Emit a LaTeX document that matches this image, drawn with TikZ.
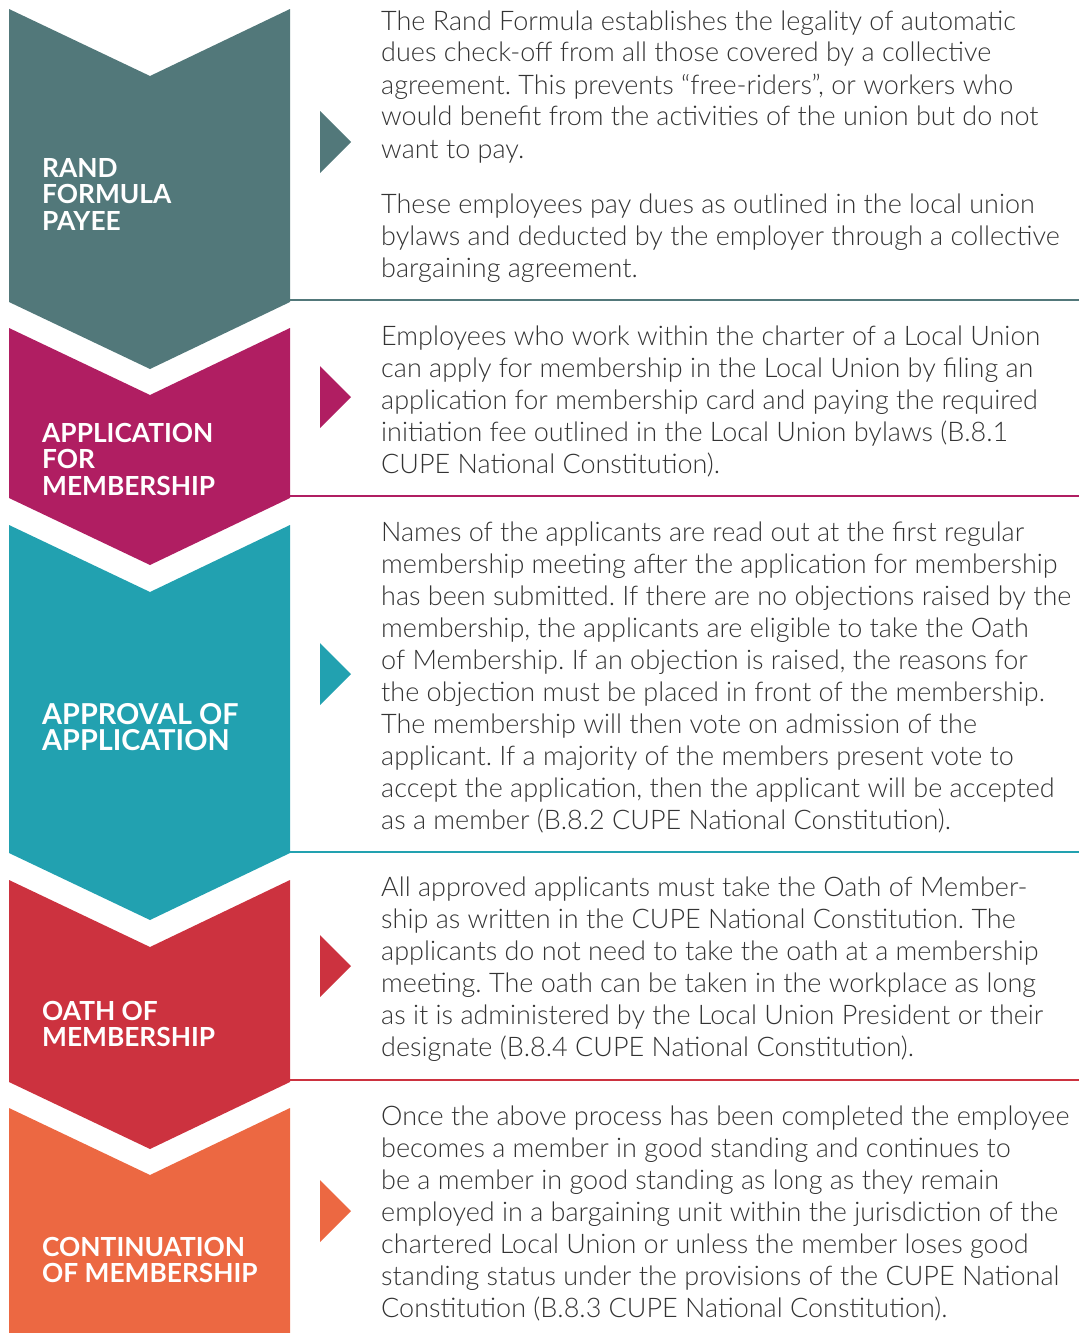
\documentclass[tikz,border=0pt]{standalone}
\usepackage{fontspec}
\setmainfont{Lato}
\newfontfamily\bodyfont{Lato Light}
\definecolor{cA}{HTML}{52787A}
\definecolor{cB}{HTML}{B01E62}
\definecolor{cC}{HTML}{22A1B0}
\definecolor{cD}{HTML}{CC323F}
\definecolor{cE}{HTML}{EC6842}
\definecolor{txt}{HTML}{333333}
\newcommand\mychev[3]{\fill[#1] (9,#2) -- (150,#2+67) -- (290,#2) -- (290,#3) -- (150,#3+67) -- (9,#3) -- cycle;}
\newcommand\mytri[2]{\fill[#1] (320,#2-31) -- (351,#2) -- (320,#2+31) -- cycle;}
\newcommand\mysep[2]{\draw[#1, line width=2pt] (290,#2) -- (1079,#2);}
\begin{document}
\frenchspacing
\begin{tikzpicture}[x=1pt,y=-1pt,
  body/.style={anchor=base west, inner sep=0pt, text=txt, font=\bodyfont\fontsize{27}{32}\selectfont},
  lbl/.style={anchor=base west, inner sep=0pt, text=white, font=\bfseries\fontsize{26.3}{26.8}\selectfont},
  lblbig/.style={lbl, font=\bfseries\fontsize{28.8}{26.8}\selectfont}]
\useasboundingbox (0,0) rectangle (1079,1333);
% chevrons
\mychev{cA}{9}{302}
\mychev{cB}{328}{498}
\mychev{cC}{525}{853}
\mychev{cD}{880}{1082}
\fill[cE] (9,1108) -- (150,1175) -- (290,1108) -- (290,1333) -- (9,1333) -- cycle;
% triangles
\mytri{cA}{142}
\mytri{cB}{397}
\mytri{cC}{674}
\mytri{cD}{966}
\mytri{cE}{1211}
% separators
\mysep{cA}{300}
\mysep{cB}{496}
\mysep{cC}{852}
\mysep{cD}{1080}
% labels
\node[lbl] (l1) at (42,177) {\parbox[t]{240pt}{RAND\\FORMULA\\PAYEE}};
\node[lbl] (l2) at (42,442) {\parbox[t]{240pt}{APPLICATION\\FOR\\MEMBERSHIP}};
\node[lblbig] (l3) at (42,724) {\parbox[t]{240pt}{APPROVAL OF\\APPLICATION}};
\node[lbl] (l4) at (42,1020) {\parbox[t]{240pt}{OATH OF\\MEMBERSHIP}};
\node[lbl] (l5) at (42,1256) {\parbox[t]{260pt}{CONTINUATION\\OF MEMBERSHIP}};
% body texts
\node[body] (t1a) at (381,30) {\parbox[t]{690pt}{The Rand Formula establishes the legality of automatic\\
dues check-off from all those covered by a collective\\
agreement. This prevents “free-riders”, or workers who\\
would benefit from the activities of the union but do not\\
want to pay.}};
\node[body] (t1b) at (381,213) {\parbox[t]{690pt}{These employees pay dues as outlined in the local union\\
bylaws and deducted by the employer through a collective\\
bargaining agreement.}};
\node[body] (t2) at (381,345) {\parbox[t]{690pt}{Employees who work within the charter of a Local Union\\
can apply for membership in the Local Union by filing an\\
application for membership card and paying the required\\
initiation fee outlined in the Local Union bylaws (B.8.1\\
CUPE National Constitution).}};
\node[body] (t3) at (381,541) {\parbox[t]{690pt}{Names of the applicants are read out at the first regular\\
membership meeting after the application for membership\\
has been submitted. If there are no objections raised by the\\
membership, the applicants are eligible to take the Oath\\
of Membership. If an objection is raised, the reasons for\\
the objection must be placed in front of the membership.\\
The membership will then vote on admission of the\\
applicant. If a majority of the members present vote to\\
accept the application, then the applicant will be accepted\\
as a member (B.8.2 CUPE National Constitution).}};
\node[body] (t4) at (381,896) {\parbox[t]{690pt}{All approved applicants must take the Oath of Member-\\
ship as written in the CUPE National Constitution. The\\
applicants do not need to take the oath at a membership\\
meeting. The oath can be taken in the workplace as long\\
as it is administered by the Local Union President or their\\
designate (B.8.4 CUPE National Constitution).}};
\node[body] (t5) at (381,1125) {\parbox[t]{690pt}{Once the above process has been completed the employee\\
becomes a member in good standing and continues to\\
be a member in good standing as long as they remain\\
employed in a bargaining unit within the jurisdiction of the\\
chartered Local Union or unless the member loses good\\
standing status under the provisions of the CUPE National\\
Constitution (B.8.3 CUPE National Constitution).}};
\end{tikzpicture}
\end{document}
